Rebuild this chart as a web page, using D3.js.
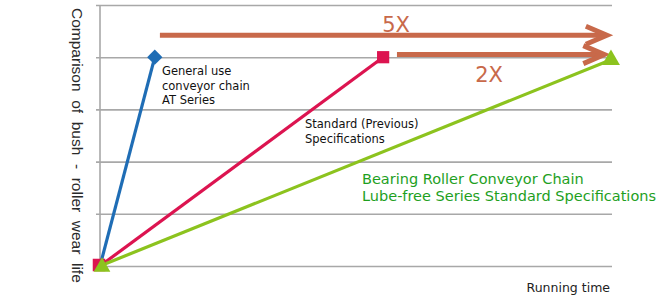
<!DOCTYPE html>
<html>
<head>
<meta charset="utf-8">
<script src="https://cdn.jsdelivr.net/npm/d3@7"></script>
<style>
  body { margin: 0; background: #fff; }
  svg { display: block; }
</style>
</head>
<body>
<div class="viz"></div>
<script>
var width = 670,
    height = 300;

// series: end point of each wear-life line (all start at 0,0)
var seriesNames = ['AT Series', 'Standard', 'Lube-free']
var lifeX = [1.07, 5.53, 9.98]
var lifeY = [4, 4, 3.95]
var seriesColors = ['#1f6db5', '#dc1450', '#8cc31e']
var markers = ['diamond', 'square', 'triangle']

// comparison arrows
var arrowLabels = ['5X', '2X']
var arrowStart = [1.17, 5.8]
var arrowEnd = [9.9, 9.85]
var arrowY = [4.42, 4.05]

var yTicks = [0, 1, 2, 3, 4, 5]

var svg = d3.select('.viz').append('svg')
  .attr('width', width)
  .attr('height', height)

var x = d3.scaleLinear().domain([0, 10]).range([100, 612]),
    y = d3.scaleLinear().domain([0, 5]).range([266, 5]);

/* grid */
var yAxis = d3.axisLeft(y)
  .tickValues(yTicks)
  .tickSize(-(x.range()[1] - x.range()[0]) - 4)
  .tickFormat('')

svg.append('g')
  .attr('class', 'grid')
  .attr('transform', 'translate(96,0)')
  .call(yAxis)
  .call(function(g){
    g.select('.domain').remove()
    g.selectAll('.tick line')
      .attr('stroke', '#a8a8a8')
      .attr('stroke-width', 1.6)
  })

svg.append('line')
  .attr('x1', x(0)).attr('x2', x(0))
  .attr('y1', y(5)).attr('y2', y(0))
  .attr('stroke', '#a8a8a8')
  .attr('stroke-width', 1.6)

/* arrows */
var arrowColor = '#c8694a'
arrowLabels.forEach(function(label, i){
  var xs = x(arrowStart[i]), xe = x(arrowEnd[i]), yy = y(arrowY[i]);
  var g = svg.append('g')
  g.append('line')
    .attr('x1', xs).attr('x2', xe - 3)
    .attr('y1', yy).attr('y2', yy)
    .attr('stroke', arrowColor)
    .attr('stroke-width', 5)
  g.append('path')
    .attr('d', d3.line()([[xe - 21, yy - 9], [xe, yy], [xe - 21, yy + 9]]))
    .attr('fill', 'none')
    .attr('stroke', arrowColor)
    .attr('stroke-width', 5)
    .attr('stroke-linejoin', 'miter')
})

svg.append('text')
  .attr('x', 396).attr('y', y(arrowY[0]) - 3)
  .attr('text-anchor', 'middle')
  .attr('font-family', 'DejaVu Sans, sans-serif')
  .attr('font-size', 21)
  .attr('fill', arrowColor)
  .text(arrowLabels[0])

svg.append('text')
  .attr('x', 489).attr('y', y(arrowY[1]) + 27)
  .attr('text-anchor', 'middle')
  .attr('font-family', 'DejaVu Sans, sans-serif')
  .attr('font-size', 21)
  .attr('fill', arrowColor)
  .text(arrowLabels[1])

/* lines */
seriesNames.forEach(function(name, i){
  svg.append('line')
    .attr('x1', x(0)).attr('y1', y(0))
    .attr('x2', x(lifeX[i])).attr('y2', y(lifeY[i]))
    .attr('stroke', seriesColors[i])
    .attr('stroke-width', 3.2)
})

var symbolTypes = {
  diamond: d3.symbolDiamond2,
  square: d3.symbolSquare2,
  triangle: d3.symbolTriangle2
}
var symbolSizes = { diamond: 150, square: 190, triangle: 230 }

// origin markers
svg.append('path')
  .attr('transform', 'translate(' + (x(0) - 1) + ',' + (y(0) - 1) + ')')
  .attr('d', d3.symbol().type(d3.symbolSquare2).size(200)())
  .attr('fill', seriesColors[1])
svg.append('path')
  .attr('transform', 'translate(' + (x(0) + 2) + ',' + (y(0) + 1) + ')')
  .attr('d', d3.symbol().type(d3.symbolTriangle2).size(200)())
  .attr('fill', seriesColors[2])

seriesNames.forEach(function(name, i){
  svg.append('path')
    .attr('transform', 'translate(' + x(lifeX[i]) + ',' + y(lifeY[i]) + ')')
    .attr('d', d3.symbol().type(symbolTypes[markers[i]]).size(symbolSizes[markers[i]])())
    .attr('fill', seriesColors[i])
})

/* labels */
function multiText(lines, x0, y0, lh, size, color){
  var t = svg.append('text')
    .attr('font-family', 'DejaVu Sans, Verdana, sans-serif')
    .attr('font-size', size)
    .attr('fill', color)
  lines.forEach(function(l, i){
    t.append('tspan').attr('x', x0).attr('y', y0 + i * lh).text(l)
  })
}

multiText(['General use', 'conveyor chain', 'AT Series'], 162, 75, 14.5, 11.5, '#111')
multiText(['Standard (Previous)', 'Specifications'], 305, 128, 14.5, 11.5, '#111')
multiText(['Bearing Roller Conveyor Chain', 'Lube-free Series Standard Specifications'], 362, 184, 17, 14.5, '#1ea01e')

svg.append('text')
  .attr('x', 610).attr('y', 292)
  .attr('text-anchor', 'end')
  .attr('font-family', 'DejaVu Sans, Verdana, sans-serif')
  .attr('font-size', 12.5)
  .attr('fill', '#222')
  .text('Running time')

svg.append('text')
  .attr('transform', 'translate(72,8) rotate(90)')
  .attr('font-family', 'Liberation Sans, Arial, sans-serif')
  .attr('font-size', 15.5)
  .attr('fill', '#2a2a2a')
  .attr('xml:space', 'preserve')
  .style('white-space', 'pre')
  .text('Comparison  of  bush  -  roller  wear  life')
</script>
</body>
</html>
